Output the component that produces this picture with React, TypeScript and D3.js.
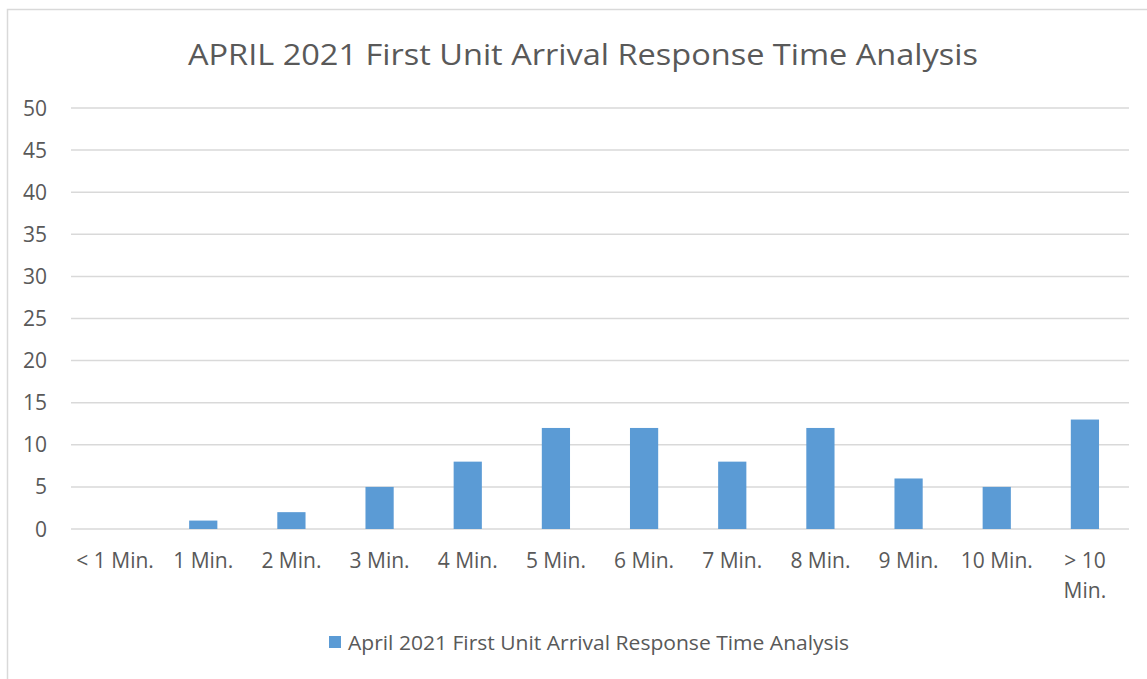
import * as d3 from "d3";

const categories = ["< 1 Min.", "1 Min.", "2 Min.", "3 Min.", "4 Min.", "5 Min.", "6 Min.", "7 Min.", "8 Min.", "9 Min.", "10 Min.", "> 10 Min."];
const values = [0, 1, 2, 5, 8, 12, 12, 8, 12, 6, 5, 13];
const yTicks = [0, 5, 10, 15, 20, 25, 30, 35, 40, 45, 50];
const seriesName = "April 2021 First Unit Arrival Response Time Analysis";
const title = "APRIL 2021 First Unit Arrival Response Time Analysis";

export default function App() {
  const width = 1147;
  const height = 679;
  const font = "'Open Sans', sans-serif";
  const textColor = "#595959";

  const x = d3.scaleBand<string>().domain(categories).range([71, 1129]).padding(0);
  const y = d3.scaleLinear().domain([0, 50]).range([529, 108]);
  const barWidth = x.bandwidth() * 0.32;

  return (
    <svg
      width={width}
      height={height}
      viewBox={`0 0 ${width} ${height}`}
      style={{ position: "absolute", left: 0, top: 0, background: "#ffffff" }}
    >
      <rect x={7.5} y={9.5} width={1160} height={700} fill="#ffffff" stroke="#d9d9d9" strokeWidth={1.5} />
      <text x={583} y={65} textAnchor="middle" fontFamily={font} fontSize={30} fill={textColor} textLength={790} lengthAdjust="spacingAndGlyphs">
        {title}
      </text>
      {yTicks.map((t) => (
        <g key={t}>
          <line x1={71} x2={1129} y1={y(t)} y2={y(t)} stroke="#d9d9d9" strokeWidth={1.5} />
          <text x={47} y={y(t) + 7.5} textAnchor="end" fontFamily={font} fontSize={21} fill={textColor}>
            {t}
          </text>
        </g>
      ))}
      {categories.map((c, i) => {
        const cx = (x(c) ?? 0) + x.bandwidth() / 2;
        const v = values[i];
        const parts = c === "> 10 Min." ? ["> 10", "Min."] : [c];
        return (
          <g key={c}>
            {v > 0 && (
              <rect x={cx - barWidth / 2} y={y(v)} width={barWidth} height={y(0) - y(v)} fill="#5b9bd5" />
            )}
            {parts.map((p, j) => (
              <text key={p} x={cx} y={568 + j * 30} textAnchor="middle" fontFamily={font} fontSize={21} fill={textColor}>
                {p}
              </text>
            ))}
          </g>
        );
      })}
      <rect x={329} y={636} width={12} height={12} fill="#5b9bd5" />
      <text x={348} y={650} fontFamily={font} fontSize={20} fill={textColor} textLength={501} lengthAdjust="spacingAndGlyphs">
        {seriesName}
      </text>
    </svg>
  );
}
